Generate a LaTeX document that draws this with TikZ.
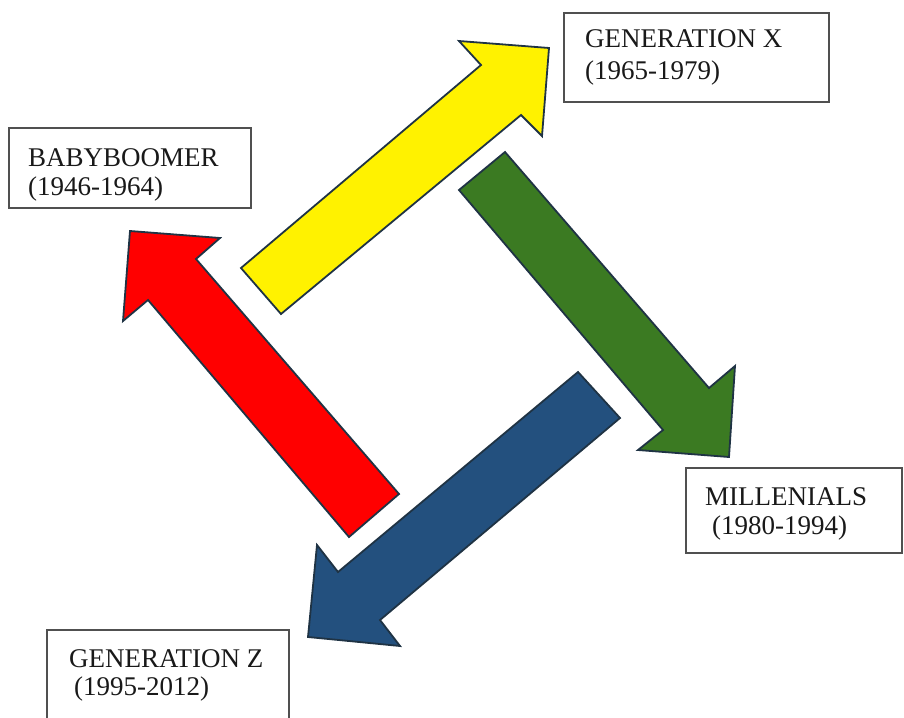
\documentclass[tikz,border=0pt]{standalone}
\usepackage{fontspec}
\setmainfont{Liberation Serif}
\definecolor{arrline}{HTML}{1F3344}
\definecolor{boxline}{HTML}{505050}
\definecolor{agreen}{HTML}{3B7A22}
\definecolor{ablue}{HTML}{23507E}
\tikzset{
  arrowshape/.style={draw=arrline, line width=1.8pt, line join=miter},
  genbox/.style={draw=boxline, line width=1.1pt, fill=white},
  gentext/.style={anchor=base west, inner sep=0pt, text=black!90, font=\fontsize{27}{30}\selectfont}
}
\begin{document}
\begin{tikzpicture}[x=1pt,y=-1pt]
\useasboundingbox (0,0) rectangle (904,717);
\clip (0,0) rectangle (904,717);
% yellow arrow
\fill[yellow, arrowshape] (241,268) -- (481,65) -- (459,41) -- (549,48) -- (542,136) -- (521,115) -- (281,314) -- cycle;
% green arrow
\fill[agreen, arrowshape] (505,152) -- (709,388) -- (735,366) -- (729,457) -- (638,450) -- (663,430) -- (459,190) -- cycle;
% blue arrow
\fill[ablue, arrowshape] (578,372) -- (338,572) -- (317,545) -- (308,637) -- (400,646) -- (380,620) -- (620,418) -- cycle;
% red arrow
\fill[red, arrowshape] (399,494) -- (196,259) -- (220,238) -- (130,231) -- (123,321) -- (148,300) -- (349,537) -- cycle;
% boxes
\draw[genbox] (9,128) rectangle (251,208) coordinate (bbbox);
\draw[genbox] (564,13) rectangle (829,102) coordinate (gxbox);
\draw[genbox] (686,468) rectangle (902,553) coordinate (mlbox);
\draw[genbox] (47,630) rectangle (289,730) coordinate (gzbox);
% texts
\node[gentext] (bb1) at (28,166) {BABYBOOMER};
\node[gentext] (bb2) at (28,195) {(1946-1964)};
\node[gentext] (gx1) at (585,48) {GENERATION X};
\node[gentext] (gx2) at (585,79) {(1965-1979)};
\node[gentext] (ml1) at (705,505) {MILLENIALS};
\node[gentext] (ml2) at (712,534) {(1980-1994)};
\node[gentext] (gz1) at (69,667) {GENERATION Z};
\node[gentext] (gz2) at (74,695) {(1995-2012)};
\end{tikzpicture}
\end{document}
